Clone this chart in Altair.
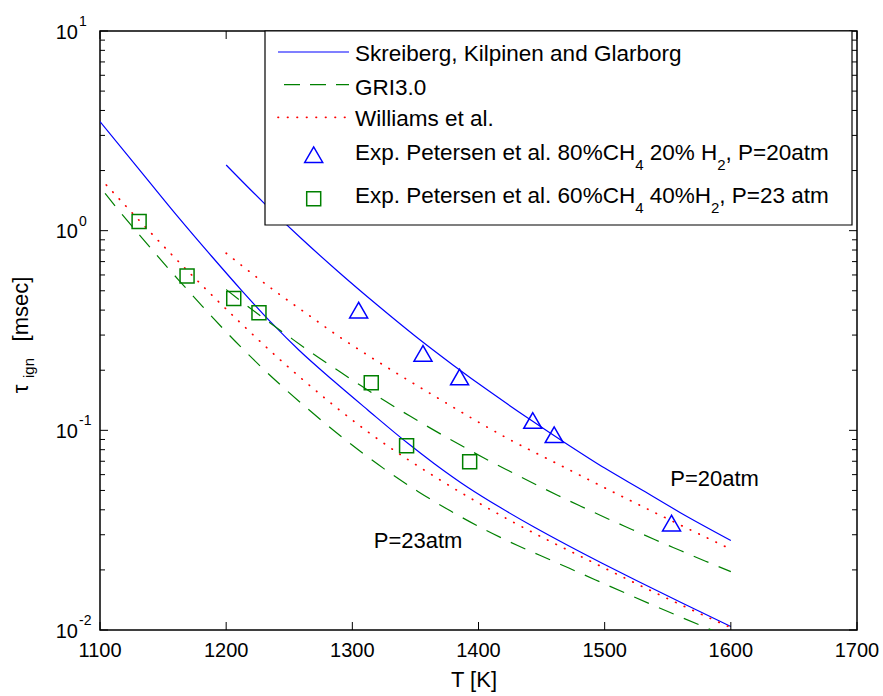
import altair as alt
import pandas as pd

FONT = "Liberation Sans"

# ---- model curves (T in K, ignition delay in msec) ----
T_skg_20 = [1200, 1230, 1260, 1290, 1320, 1350, 1380, 1410, 1440, 1470, 1500, 1530, 1560, 1600]
tau_skg_20 = [2.133, 1.374, 0.908, 0.614, 0.423, 0.296, 0.212, 0.1545, 0.1143, 0.0855, 0.0647, 0.0501, 0.0387, 0.0281]

T_skg_23 = [1100, 1136, 1162, 1189, 1212, 1236, 1258, 1285, 1312, 1344, 1365, 1392, 1418, 1444, 1471, 1498, 1530, 1561, 1600]
tau_skg_23 = [3.516, 1.854, 1.169, 0.738, 0.504, 0.345, 0.251, 0.177, 0.1268, 0.0861, 0.0681, 0.0516, 0.0408, 0.0328, 0.0265, 0.0216, 0.0171, 0.01368, 0.01042]

T_gri_20 = [1200, 1230, 1250, 1268, 1289, 1307, 1327, 1346, 1366, 1386, 1404, 1424, 1443, 1463, 1481, 1502, 1522, 1540, 1560, 1580, 1600]
tau_gri_20 = [0.507, 0.363, 0.294, 0.244, 0.1986, 0.167, 0.139, 0.1175, 0.0991, 0.0841, 0.0729, 0.0627, 0.0545, 0.0472, 0.0417, 0.0362, 0.0318, 0.0283, 0.0250, 0.0221, 0.0196]

T_gri_23 = [1104, 1114, 1130, 1146, 1162, 1181, 1199, 1215, 1228, 1267, 1293, 1325, 1352, 1378, 1405, 1431, 1458, 1482, 1535, 1561, 1581, 1600]
tau_gri_23 = [1.538, 1.282, 0.973, 0.741, 0.569, 0.419, 0.316, 0.249, 0.207, 0.1245, 0.0912, 0.0643, 0.0494, 0.0394, 0.0318, 0.0265, 0.0223, 0.0191, 0.0136, 0.01156, 0.01023, 0.00912]

T_wil_20 = [1200, 1241, 1262, 1289, 1310, 1365, 1420, 1468, 1496, 1545, 1600]
tau_wil_20 = [0.771, 0.486, 0.391, 0.296, 0.2427, 0.1486, 0.0933, 0.0653, 0.0531, 0.0373, 0.0254]

T_wil_23 = [1105, 1157, 1211, 1246, 1260, 1315, 1370, 1426, 1494, 1544, 1593, 1600]
tau_wil_23 = [1.694, 0.757, 0.347, 0.2163, 0.1811, 0.0955, 0.0562, 0.0351, 0.0213, 0.01496, 0.01076, 0.01028]

# ---- experiments ----
T_exp_80 = [1305, 1356, 1385, 1443, 1460, 1553]
tau_exp_80 = [0.40, 0.243, 0.185, 0.112, 0.095, 0.0343]

T_exp_60 = [1131, 1169, 1206, 1226, 1315, 1343, 1393]
tau_exp_60 = [1.11, 0.593, 0.457, 0.388, 0.173, 0.0836, 0.0697]

# ---- axes ----
x_ticks = [1100, 1200, 1300, 1400, 1500, 1600, 1700]
y_major = [0.01, 0.1, 1, 10]
y_exp = ["-2", "-1", "0", "1"]
y_minor = [d * k for d in (0.01, 0.1, 1) for k in range(2, 10)]

annot_T = [1552, 1317]
annot_tau = [0.0527, 0.02576]
annot_txt = ["P=20atm", "P=23atm"]

BLUE, GREEN, RED = "#0000ff", "#008000", "#ff0000"
W, H = 757, 599

xs = alt.Scale(domain=[1100, 1700], nice=False, zero=False)
ys = alt.Scale(type="log", domain=[0.01, 10], nice=False)


def X():
    return alt.X("T:Q", scale=xs, axis=None)


def Y():
    return alt.Y("tau:Q", scale=ys, axis=None)


one = pd.DataFrame({"a": [0]})


def curve(T, tau, color, dash=None, width=1.2, cap="butt"):
    kw = dict(color=color, strokeWidth=width, clip=True, strokeCap=cap, interpolate="monotone")
    if dash:
        kw["strokeDash"] = dash
    return alt.Chart(pd.DataFrame({"T": T, "tau": tau})).mark_line(**kw).encode(x=X(), y=Y())


DOT = [0.5, 9]
DASH = [16, 11]

layers = [
    curve(T_skg_20, tau_skg_20, BLUE),
    curve(T_skg_23, tau_skg_23, BLUE),
    curve(T_gri_20, tau_gri_20, GREEN, DASH),
    curve(T_gri_23, tau_gri_23, GREEN, DASH),
    curve(T_wil_20, tau_wil_20, RED, DOT, 1.7, "round"),
    curve(T_wil_23, tau_wil_23, RED, DOT, 1.7, "round"),
    alt.Chart(pd.DataFrame({"T": T_exp_80, "tau": tau_exp_80})).mark_point(
        shape="triangle-up", size=324, filled=False, color=BLUE, strokeWidth=1.5, opacity=1
    ).encode(x=X(), y=Y()),
    alt.Chart(pd.DataFrame({"T": T_exp_60, "tau": tau_exp_60})).mark_point(
        shape="square", size=196, filled=False, color=GREEN, strokeWidth=1.5, opacity=1
    ).encode(x=X(), y=Y()),
]

# inward ticks (MATLAB box style)
ymaj = pd.DataFrame({"tau": y_major})
ymin = pd.DataFrame({"tau": y_minor})
xtk = pd.DataFrame({"T": x_ticks})
tick = dict(color="black", strokeWidth=1)
layers += [
    alt.Chart(ymaj).mark_rule(**tick).encode(y=Y(), x=alt.value(0), x2=alt.value(8)),
    alt.Chart(ymin).mark_rule(**tick).encode(y=Y(), x=alt.value(0), x2=alt.value(5)),
    alt.Chart(ymaj).mark_rule(**tick).encode(y=Y(), x=alt.value(W - 8), x2=alt.value(W)),
    alt.Chart(ymin).mark_rule(**tick).encode(y=Y(), x=alt.value(W - 5), x2=alt.value(W)),
    alt.Chart(xtk).mark_rule(**tick).encode(x=X(), y=alt.value(H - 8), y2=alt.value(H)),
    alt.Chart(xtk).mark_rule(**tick).encode(x=X(), y=alt.value(0), y2=alt.value(8)),
]

# legend box
layers.append(
    alt.Chart(one).mark_rect(fill="white", stroke="black", strokeWidth=1.2).encode(
        x=alt.value(165), x2=alt.value(752), y=alt.value(0), y2=alt.value(194)
    )
)
LX0, LX1 = 178, 249
layers += [
    alt.Chart(one).mark_rule(color=BLUE, strokeWidth=1.2).encode(
        x=alt.value(LX0), x2=alt.value(LX1), y=alt.value(21)),
    alt.Chart(one).mark_rule(color=GREEN, strokeWidth=1.2, strokeDash=[16, 10]).encode(
        x=alt.value(LX0 + 6), x2=alt.value(LX1), y=alt.value(53.7)),
    alt.Chart(one).mark_rule(color=RED, strokeWidth=1.7, strokeDash=DOT, strokeCap="round").encode(
        x=alt.value(LX0), x2=alt.value(LX1), y=alt.value(86.3)),
    alt.Chart(one).mark_point(shape="triangle-up", size=324, filled=False, color=BLUE,
                              strokeWidth=1.5, opacity=1).encode(x=alt.value(213.7), y=alt.value(123.7)),
    alt.Chart(one).mark_point(shape="square", size=196, filled=False, color=GREEN,
                              strokeWidth=1.5, opacity=1).encode(x=alt.value(213.7), y=alt.value(167.7)),
]

# legend texts (with subscripts laid out with Arial metrics)
AW = {'E': 667, 'x': 500, 'p': 556, '.': 278, ' ': 278, 'P': 667, 'e': 556, 't': 278, 'r': 333,
      's': 500, 'n': 556, 'a': 556, 'l': 222, '0': 556, '2': 556, '3': 556, '4': 556, '6': 556,
      '8': 556, '%': 889, 'C': 722, 'H': 722, ',': 278, '=': 584, 'm': 833}


def tw(s, fs):
    return sum(AW.get(c, 556) for c in s) * fs / 1000.0


FS, FSS, SUBDY = 22.5, 15, 10
TX = 255
rows = [
    ([("Skreiberg, Kilpinen and Glarborg", 0)], 30.3),
    ([("GRI3.0", 0)], 63.7),
    ([("Williams et al.", 0)], 95.3),
    ([("Exp. Petersen et al. 80%CH", 0), ("4", 1), (" 20% H", 0), ("2", 1), (", P=20atm", 0)], 128.7),
    ([("Exp. Petersen et al. 60%CH", 0), ("4", 1), (" 40%H", 0), ("2", 1), (", P=23 atm", 0)], 172),
]
for segs, base in rows:
    xcur = TX
    for s, sub in segs:
        fs = FSS if sub else FS
        lead = len(s) - len(s.lstrip(" "))
        xcur += tw(" " * lead, fs)
        s2 = s.lstrip(" ")
        layers.append(
            alt.Chart(one).mark_text(
                text=s2, font=FONT, fontSize=fs, align="left", baseline="alphabetic", color="black"
            ).encode(x=alt.value(xcur), y=alt.value(base + (SUBDY if sub else 0)))
        )
        xcur += tw(s2, fs)

# in-plot annotations
layers.append(
    alt.Chart(pd.DataFrame({"T": annot_T, "tau": annot_tau, "lab": annot_txt})).mark_text(
        font=FONT, fontSize=22, align="left", baseline="alphabetic", color="black"
    ).encode(x=X(), y=Y(), text="lab:N")
)

# tick labels
layers.append(
    alt.Chart(pd.DataFrame({"T": x_ticks, "lab": [str(v) for v in x_ticks]})).mark_text(
        font=FONT, fontSize=20, align="center", baseline="alphabetic", color="black"
    ).encode(x=X(), y=alt.value(626), text="lab:N")
)
ylab = pd.DataFrame({"tau": y_major, "e": y_exp, "b": ["10"] * 4})
layers += [
    alt.Chart(ylab).mark_text(font=FONT, fontSize=20, align="right", baseline="alphabetic",
                              dx=-22, dy=7.5, color="black").encode(x=alt.value(0), y=Y(), text="b:N"),
    alt.Chart(ylab).mark_text(font=FONT, fontSize=14, align="left", baseline="alphabetic",
                              dx=-21, dy=-5, color="black").encode(x=alt.value(0), y=Y(), text="e:N"),
]

# axis titles
layers += [
    alt.Chart(one).mark_text(text="T [K]", font=FONT, fontSize=22, align="center",
                             baseline="alphabetic", color="black").encode(x=alt.value(374), y=alt.value(656)),
    alt.Chart(one).mark_text(text="τ", font=FONT, fontSize=22, align="center", angle=270,
                             baseline="alphabetic", color="black").encode(x=alt.value(-72), y=alt.value(358)),
    alt.Chart(one).mark_text(text="ign", font=FONT, fontSize=15, align="center", angle=270,
                             baseline="alphabetic", color="black").encode(x=alt.value(-66), y=alt.value(337)),
    alt.Chart(one).mark_text(text="[msec]", font=FONT, fontSize=22, align="center", angle=270,
                             baseline="alphabetic", color="black").encode(x=alt.value(-72), y=alt.value(278)),
]

chart = alt.layer(*layers).properties(
    width=W,
    height=H,
    autosize=alt.AutoSizeParams(type="none"),
    padding={"left": 100, "top": 31, "right": 26, "bottom": 66},
    background="white",
).configure_view(stroke="black", strokeWidth=1.5)

chart.save("out.html", embed_options={"renderer": "svg", "actions": False})
